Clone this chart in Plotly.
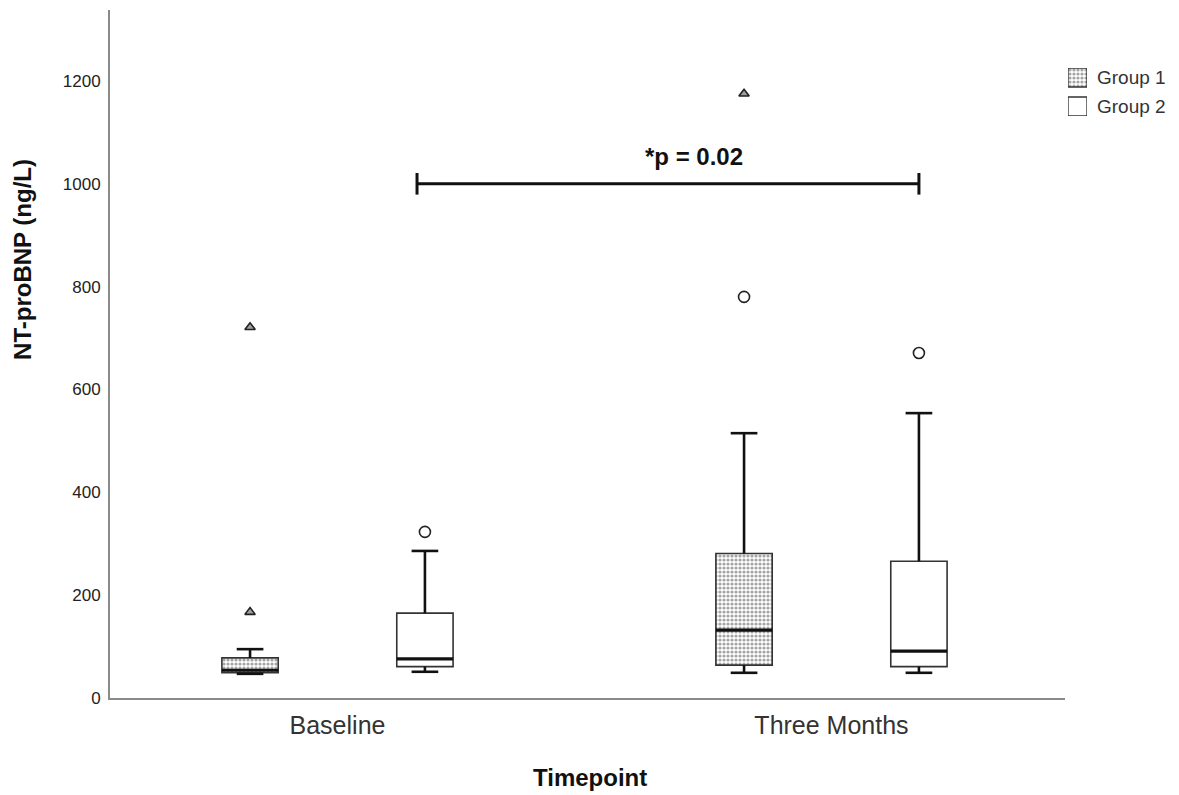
import plotly.graph_objects as go

# Timepoints and groups
timepoints = ["Baseline", "Three Months"]
groups = ["Group 1", "Group 2"]

# Box summary statistics (ng/L), per group, per timepoint
q1 = {"Group 1": [49, 64], "Group 2": [61, 61]}
median = {"Group 1": [54, 132], "Group 2": [76, 91]}
q3 = {"Group 1": [78, 281], "Group 2": [165, 266]}
lower_whisker = {"Group 1": [47, 49], "Group 2": [51, 49]}
upper_whisker = {"Group 1": [95, 515], "Group 2": [286, 554]}

# Outliers: (timepoint index, value, kind) — "far" drawn as triangles, "near" as circles
outliers = {
    "Group 1": [(0, 167, "far"), (0, 721, "far"), (1, 780, "near"), (1, 1175, "far")],
    "Group 2": [(0, 323, "near"), (1, 671, "near")],
}

p_text = "*p = 0.02"
p_level = 1000

offsets = {"Group 1": -0.177, "Group 2": 0.177}
box_half = 0.057
cap_half = 0.027

dots = dict(shape=".", size=4, solidity=0.5, fgcolor="#4a4a4a", bgcolor="white")
plain = dict(shape="", bgcolor="white")
patterns = {"Group 1": dots, "Group 2": plain}

fig = go.Figure()

for g in groups:
    xs = [i + offsets[g] for i in range(len(timepoints))]
    # Boxes as bars spanning Q1..Q3
    fig.add_trace(go.Bar(
        x=xs,
        y=[q3[g][i] - q1[g][i] for i in range(len(xs))],
        base=q1[g],
        width=2 * box_half,
        marker=dict(color="white", pattern=patterns[g], line=dict(color="#333333", width=1.6)),
        name=g, showlegend=False, hoverinfo="skip",
    ))
    # Whiskers and caps
    wx, wy = [], []
    for i, x in enumerate(xs):
        wx += [x, x, None, x - cap_half, x + cap_half, None, x, x, None, x - cap_half, x + cap_half, None]
        wy += [q3[g][i], upper_whisker[g][i], None, upper_whisker[g][i], upper_whisker[g][i], None,
               q1[g][i], lower_whisker[g][i], None, lower_whisker[g][i], lower_whisker[g][i], None]
    fig.add_trace(go.Scatter(x=wx, y=wy, mode="lines", line=dict(color="#111111", width=2.6),
                             showlegend=False, hoverinfo="skip"))
    # Medians
    mx, my = [], []
    for i, x in enumerate(xs):
        mx += [x - box_half, x + box_half, None]
        my += [median[g][i], median[g][i], None]
    fig.add_trace(go.Scatter(x=mx, y=my, mode="lines", line=dict(color="#111111", width=3.2),
                             showlegend=False, hoverinfo="skip"))
    # Outliers
    for kind, sym, size, fill in [("near", "circle", 11, "white"), ("far", "triangle-up", 9, "#a0a0a0")]:
        pts = [(t, v) for t, v, k in outliers[g] if k == kind]
        if pts:
            fig.add_trace(go.Scatter(
                x=[t + offsets[g] for t, _ in pts], y=[v for _, v in pts], mode="markers",
                marker=dict(symbol=sym, size=size, color=fill, line=dict(color="#222222", width=1.6)),
                showlegend=False, hoverinfo="skip"))

# Significance bracket between baseline and three-month Group 2
bx0, bx1 = 0.161, 1.177
tick = 21
fig.add_trace(go.Scatter(
    x=[bx0, bx1, None, bx0, bx0, None, bx1, bx1],
    y=[p_level, p_level, None, p_level - tick, p_level + tick, None, p_level - tick, p_level + tick],
    mode="lines", line=dict(color="#111111", width=3), showlegend=False, hoverinfo="skip"))

annotations = [
    dict(x=(bx0 + bx1) / 2 + 0.053, y=p_level + 54, text="<b>" + p_text + "</b>",
         showarrow=False, font=dict(size=24, color="#111111")),
    dict(xref="paper", yref="paper", x=-0.082, y=0.637, xanchor="center", yanchor="middle",
         text="<b>NT-proBNP (ng/L)</b>", textangle=-90, showarrow=False,
         font=dict(size=24, color="#111111")),
    dict(xref="paper", yref="paper", x=0.4528, y=-0.116, xanchor="center", yanchor="middle",
         text="<b>Timepoint</b>", showarrow=False, font=dict(size=24, color="#111111")),
]

# Legend key: patterned swatches on a small auxiliary axis pair (units are pixels)
swatch, gap = 19, 10
for k, g in enumerate(groups):
    base = (len(groups) - 1 - k) * (swatch + gap)
    fig.add_trace(go.Bar(
        x=[0.5], y=[swatch], base=[base], width=[1],
        marker=dict(color="white", pattern=patterns[g], line=dict(color="#333333", width=1.4)),
        xaxis="x2", yaxis="y2", showlegend=False, hoverinfo="skip"))
    annotations.append(dict(
        xref="paper", yref="paper", x=0.9302, y=(698 - 116 + base + swatch / 2) / 688,
        xanchor="left", yanchor="middle", text=g, showarrow=False,
        font=dict(size=19, color="#333333")))

fig.update_layout(
    width=1179, height=795,
    margin=dict(l=110, r=10, t=10, b=97),
    paper_bgcolor="white", plot_bgcolor="white",
    font=dict(family="Liberation Sans, Arial, sans-serif", color="#222222"),
    barmode="overlay",
    showlegend=False,
    xaxis=dict(
        domain=[0, 0.9018],
        range=[-0.4605, 1.4727], tickvals=[0, 1], ticktext=timepoints,
        tickfont=dict(size=25, color="#333333"), showgrid=False, zeroline=False,
        showline=True, linecolor="#8a8a8a", linewidth=2, ticks="outside", ticklen=4,
        tickcolor="rgba(0,0,0,0)",
    ),
    yaxis=dict(
        range=[0, 1338], tickvals=[0, 200, 400, 600, 800, 1000, 1200],
        tickfont=dict(size=17, color="#222222"), showgrid=False, zeroline=False,
        showline=True, linecolor="#8a8a8a", linewidth=2, ticks="outside", ticklen=4,
        tickcolor="rgba(0,0,0,0)",
    ),
    xaxis2=dict(domain=[0.9046, 0.9226], range=[0, 1], visible=False, fixedrange=True),
    yaxis2=dict(domain=[(698 - 116) / 688, (698 - 68) / 688], range=[0, 2 * swatch + gap],
                anchor="x2", visible=False, fixedrange=True),
    annotations=annotations,
)

fig.write_html("out.html")
